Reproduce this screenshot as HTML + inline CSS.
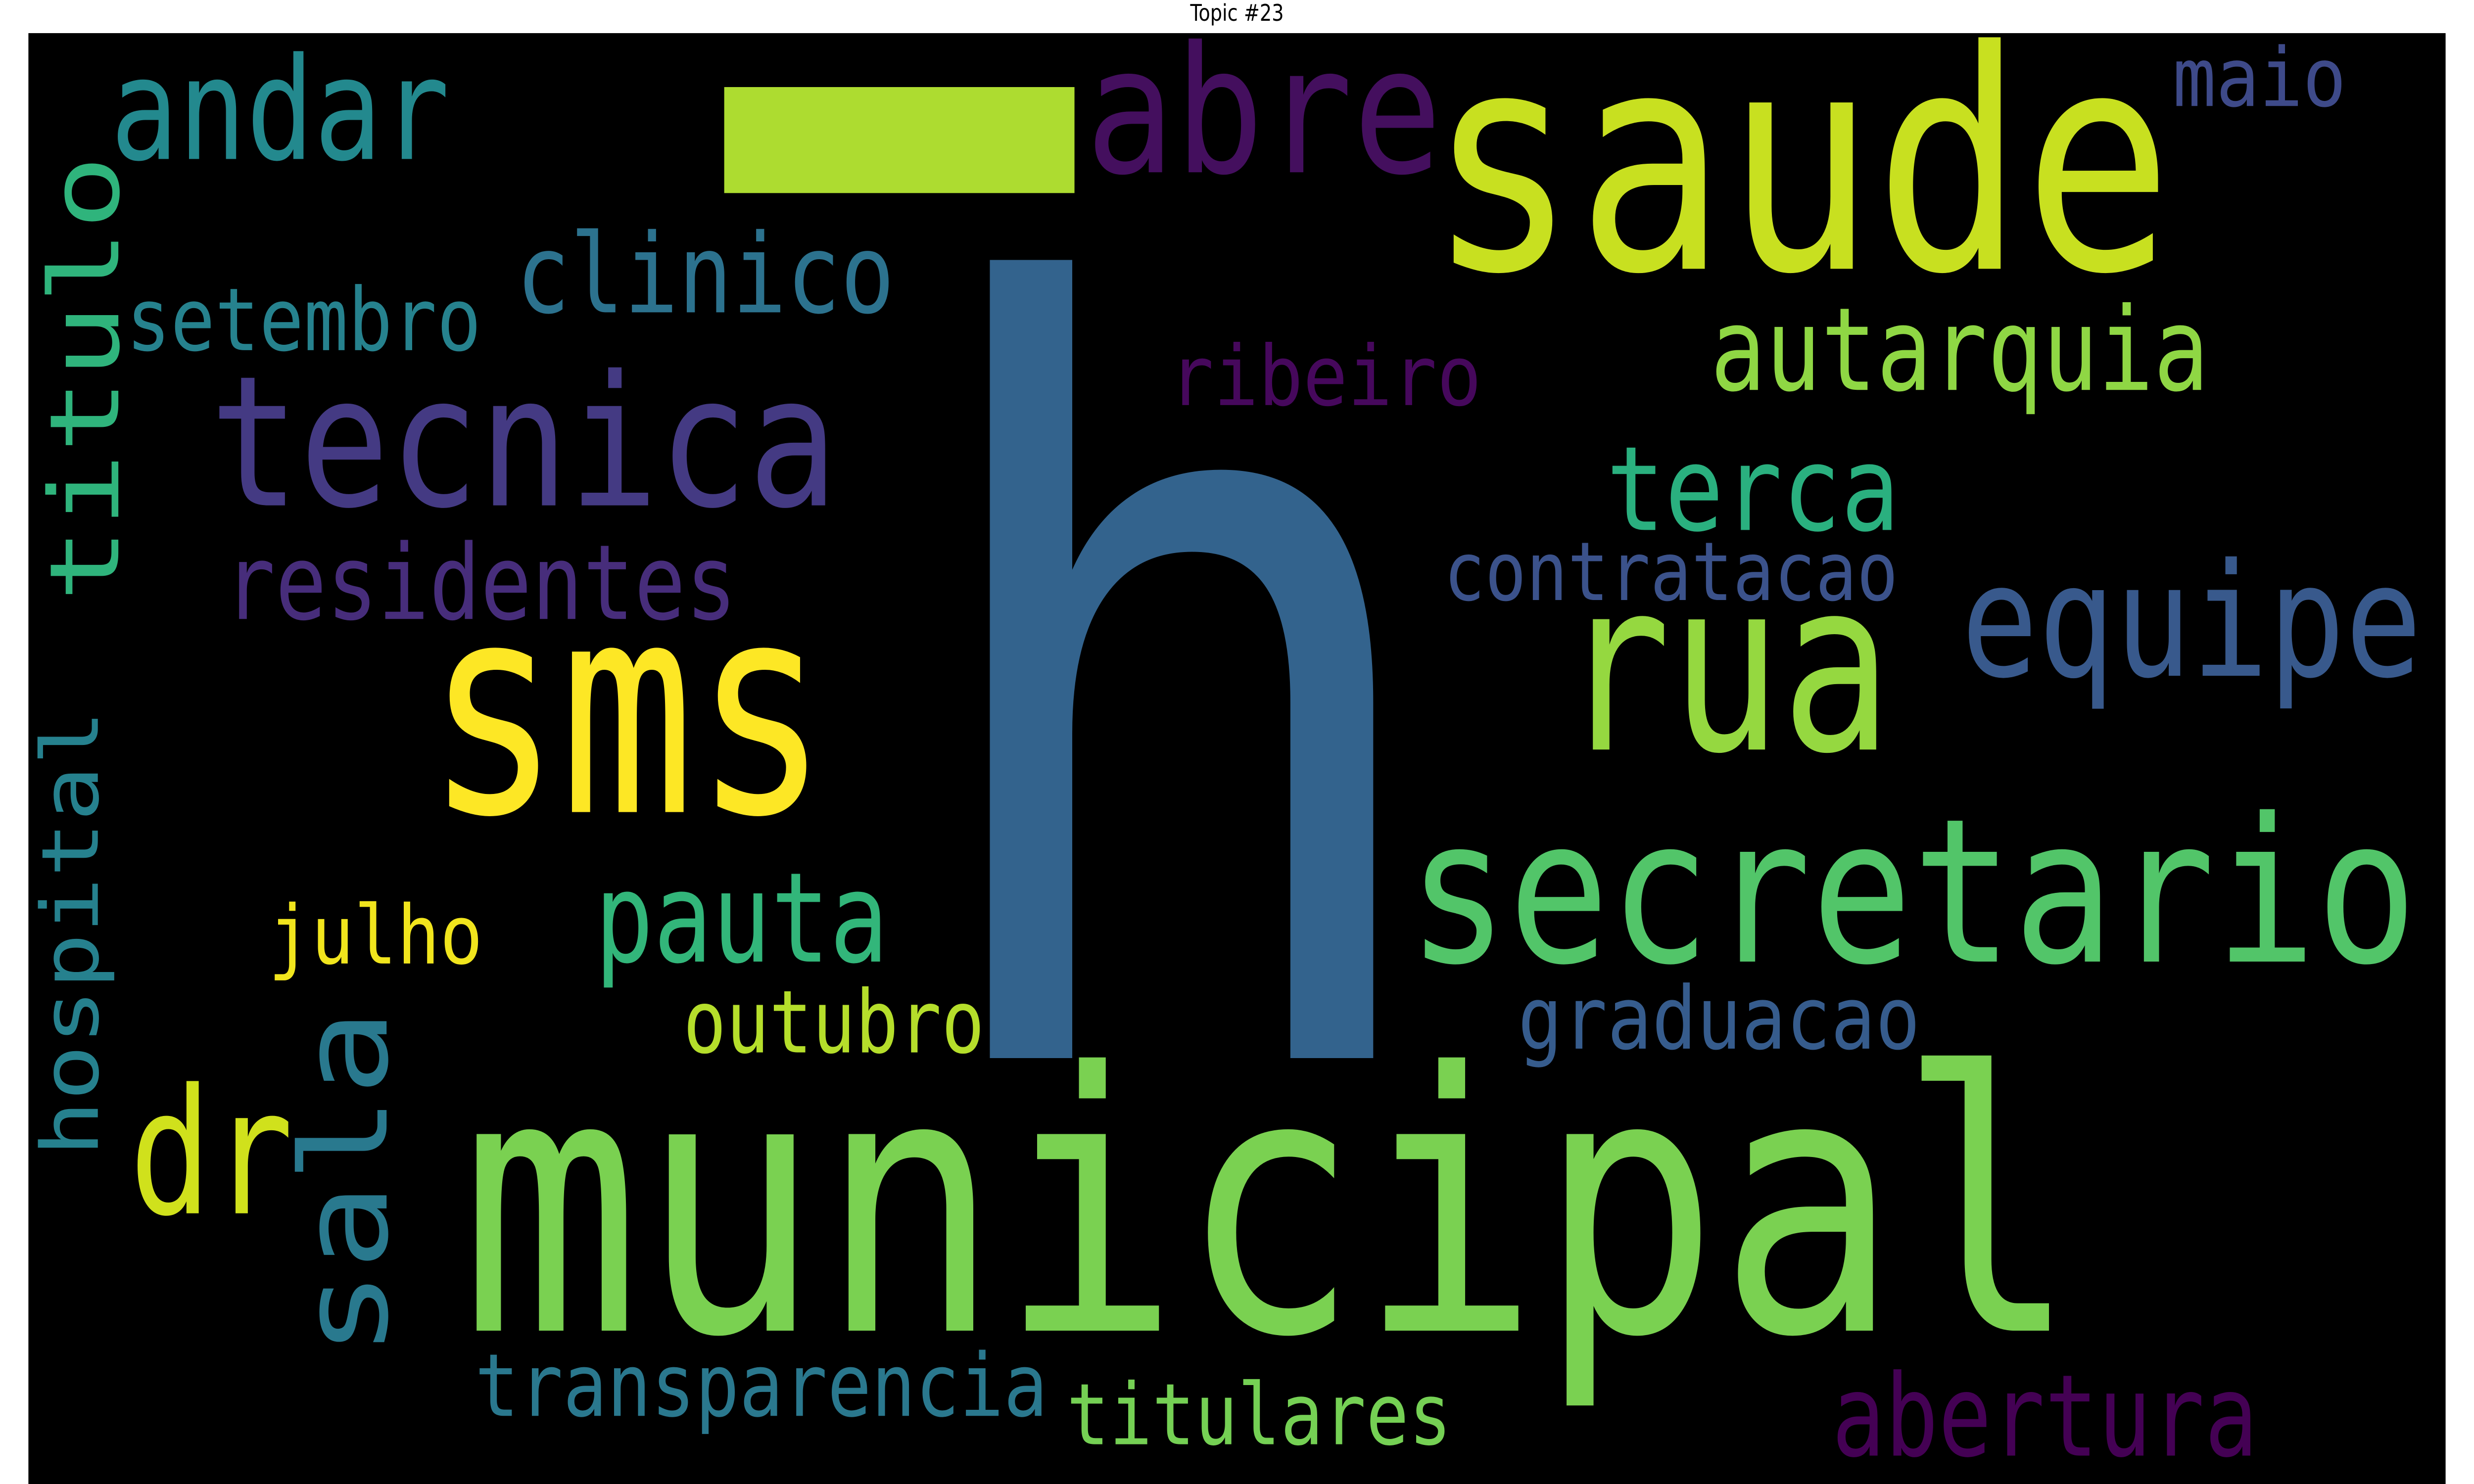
<!DOCTYPE html>
<html><head><meta charset="utf-8">
<style>
html,body{margin:0;padding:0;background:#fff;width:100%;height:100%;overflow:hidden}
svg{display:block;position:fixed;left:0;top:0;width:100vw;height:100vh}
text{font-family:"DejaVu Sans Mono","Liberation Mono",monospace}
</style></head>
<body>
<svg id="chart" viewBox="0 0 1568 784" preserveAspectRatio="none" xmlns="http://www.w3.org/2000/svg">
<rect x="0" y="0" width="1568" height="784" fill="#fff"/>
<text x="784" y="11" font-size="12" text-anchor="middle" fill="#000" style="font-family:'DejaVu Sans','Liberation Sans',sans-serif">Topic #23</text>
<rect x="18" y="17.5" width="1532" height="767" fill="#000"/>
<rect x="459" y="46" width="222" height="56" fill="#addc30"/>
<g id="words"></g>
</svg>
<script>
const words = ["h","saude","abre","andar","maio","titulo","clinico","setembro","tecnica","autarquia","ribeiro","terca","contratacao","residentes","equipe","sms","rua","secretario","hospital","julho","pauta","graduacao","outubro","dr","sala","municipal","transparencia","titulares","abertura"];
const colors = ["#33638d","#c8e020","#440f5e","#23898e","#3e4a89","#2fb47c","#2c728e","#26828e","#443a83","#8fd744","#46085c","#2ab07f","#3b528b","#472d7b","#38598c","#fde725","#95d840","#52c569","#26818e","#f1e51d","#32b67a","#365c8d","#b5de2b","#d0e11c","#29798e","#7ad151","#2a788e","#75d054","#440154"];
// [x, baseline, fontSize, advanceWidth, rotated]
const layout = [
 [572,559,555,350,0],[905,142,161,472,0],[688,91,93,226,0],[70,84,75,215,0],[1377,56,43,110,0],
 [75,318,61,236,1],[327,165,58,240,0],[80,185,46,225,0],[133,267,96,398,0],[1084,206,61,316,0],
 [741,214,44,198,0],[1018,280,62,186,0],[915,317,43,288,0],[142,327,55,325,0],[1243,357,83,292,0],
 [270,429,155,255,0],[989,396,126,210,0],[892,508,106,640,0],[62,611,50,236,1],[170,509,43,136,0],
 [377,508,66,186,0],[962,554,46,255,0],[433,556,46,191,0],[82,641,92,104,0],[245,717,76,184,1],
 [292,703,190,1025,0],[301,748,46,363,0],[676,763,45,244,0],[1161,769,60,270,0]
];
const g = document.getElementById('words');
const NS = 'http://www.w3.org/2000/svg';
words.forEach((w,i)=>{
  const [x,y,fs,wd,rot] = layout[i];
  const t = document.createElementNS(NS,'text');
  
  
  t.setAttribute('font-size', fs);
  t.setAttribute('fill', colors[i]);
  t.setAttribute('textLength', wd);
  t.setAttribute('lengthAdjust', 'spacingAndGlyphs');
  if (rot) {
    t.setAttribute('transform', 'translate(' + x + ',' + y + ') rotate(-90)');
    t.setAttribute('x', 0); t.setAttribute('y', 0);
  } else {
    t.setAttribute('x', x); t.setAttribute('y', y);
  }
  t.textContent = w;
  g.appendChild(t);
});
</script>
</body></html>
